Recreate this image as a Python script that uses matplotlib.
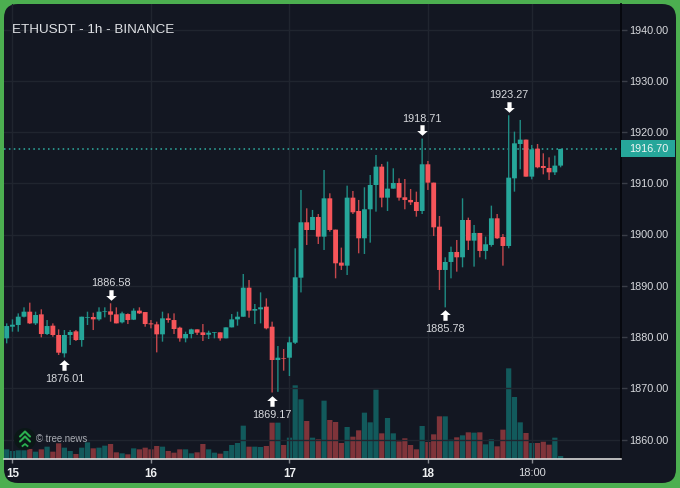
import numpy as np
import matplotlib
matplotlib.use("Agg")
import matplotlib.pyplot as plt
from matplotlib.patches import FancyBboxPatch, Circle
from matplotlib.path import Path
from matplotlib.transforms import offset_copy

plt.rcParams['font.family'] = ['Liberation Sans', 'DejaVu Sans']

opens = [1879.74,1882.01,1882.34,1883.96,1884.94,1882.66,1884.42,1880.58,1882.21,1880.39,
1876.81,1880.39,1881.10,1879.41,1883.77,1883.90,1883.44,1884.87,1885.00,1884.42,
1882.86,1884.48,1883.38,1885.14,1884.87,1882.66,1882.47,1880.52,1883.64,1883.31,
1881.82,1879.74,1880.58,1881.49,1880.91,1880.45,1880.84,1880.91,1879.74,1881.88,
1883.44,1883.96,1889.62,1885.14,1885.40,1885.92,1882.01,1875.51,1875.83,1875.96,
1878.89,1891.58,1902.38,1900.88,1903.42,1899.58,1907.06,1900.95,1894.51,1893.92,
1907.19,1904.59,1899.26,1904.92,1909.66,1913.24,1907.19,1908.95,1910.05,1907.26,
1906.74,1906.35,1904.59,1913.70,1910.12,1901.53,1893.08,1894.64,1896.59,1895.55,
1902.83,1898.80,1900.30,1896.79,1897.96,1903.16,1899.52,1897.76,1910.96,1917.66,
1918.51,1911.29,1916.75,1913.37,1912.98,1912.13,1913.44]
closes = [1882.14,1882.40,1883.96,1884.94,1882.66,1884.29,1880.58,1882.14,1880.39,1876.94,
1880.39,1880.97,1879.41,1883.96,1883.90,1883.44,1884.94,1885.00,1884.35,1882.66,
1884.61,1883.31,1885.14,1884.61,1882.53,1882.47,1880.52,1883.64,1883.31,1881.56,
1879.74,1880.58,1881.49,1880.84,1880.39,1880.84,1880.97,1879.74,1881.88,1883.44,
1883.96,1889.62,1885.14,1885.46,1885.79,1881.69,1875.51,1875.96,1875.77,1878.96,
1891.65,1902.38,1900.88,1903.42,1899.58,1907.06,1900.88,1894.38,1893.92,1907.19,
1904.33,1899.26,1904.92,1909.66,1913.24,1907.19,1908.95,1910.05,1907.19,1906.74,
1906.28,1904.59,1913.70,1910.12,1901.40,1893.08,1894.64,1896.59,1895.55,1902.83,
1898.80,1900.30,1896.79,1898.09,1903.16,1899.26,1897.76,1911.09,1917.79,1918.51,
1911.29,1916.62,1913.11,1912.98,1912.13,1913.44,1916.70]
highs = [1882.66,1883.44,1884.61,1885.79,1886.70,1884.94,1885.40,1883.31,1882.66,1881.49,
1881.36,1881.36,1881.36,1883.96,1884.94,1884.74,1885.79,1885.79,1886.58,1885.79,
1884.94,1884.61,1885.59,1885.79,1884.87,1883.31,1882.99,1884.94,1884.61,1884.61,
1882.01,1881.04,1881.62,1881.49,1882.53,1881.23,1880.97,1880.91,1881.88,1884.48,
1884.94,1892.29,1891.12,1886.44,1888.71,1887.54,1882.99,1878.24,1877.66,1880.06,
1897.31,1908.69,1905.11,1904.79,1904.00,1912.59,1908.04,1900.95,1897.44,1909.53,
1908.49,1906.74,1909.21,1911.61,1915.52,1913.76,1914.22,1912.92,1910.96,1910.83,
1908.88,1908.36,1918.71,1914.35,1910.12,1903.61,1895.55,1897.63,1898.93,1907.06,
1903.29,1901.86,1900.30,1899.58,1905.63,1904.00,1900.10,1923.27,1920.07,1922.35,
1918.51,1917.47,1917.66,1915.84,1915.06,1915.39,1916.70]
lows = [1878.76,1881.04,1881.04,1883.83,1882.53,1882.34,1879.93,1880.39,1880.06,1876.49,
1876.01,1878.44,1879.22,1878.11,1882.34,1881.36,1883.18,1883.83,1882.99,1882.66,
1882.66,1882.53,1883.31,1884.48,1882.01,1881.69,1877.00,1879.09,1882.79,1880.58,
1879.09,1878.96,1879.74,1880.39,1879.22,1879.61,1879.74,1879.28,1879.74,1881.88,
1882.21,1883.96,1883.77,1882.53,1882.66,1881.49,1869.17,1869.30,1873.43,1872.39,
1878.63,1888.70,1897.96,1900.88,1898.15,1896.98,1900.56,1891.45,1893.08,1892.10,
1904.00,1896.33,1896.20,1898.41,1904.46,1905.31,1904.59,1908.95,1906.61,1904.92,
1905.76,1903.48,1904.00,1908.69,1899.71,1889.18,1885.78,1891.45,1892.75,1893.60,
1896.98,1893.73,1895.55,1895.16,1897.63,1899.13,1893.92,1897.31,1908.36,1912.72,
1911.29,1910.77,1912.92,1911.74,1910.64,1911.61,1913.11]
volumes = [29,24,26,26,30,22,29,37,22,47,34,24,15,34,50,32,34,40,45,20,17,14,32,29,34,29,39,37,24,
19,29,29,17,20,45,29,19,16,24,42,48,100,37,37,36,39,109,109,42,64,221,179,114,64,59,175,117,111,
48,96,67,86,139,110,208,77,123,77,53,62,42,29,99,51,74,128,128,58,65,71,80,79,80,44,59,38,88,272,
186,110,78,48,48,52,43,64,9]

y_ticks = [1860,1870,1880,1890,1900,1910,1920,1930,1940]
x_tick_pos = [1,25,49,73,91]
x_tick_labels = ['15','16','17','18','18:00']
title = 'ETHUSDT - 1h - BINANCE'
last_price = 1916.70
high_marks = [18,72,87]
low_marks = [10,46,76]

UP='#26a69a'; DOWN='#f6555a'; UPW='#1f8c84'; DOWNW='#c4474c'
UPV='#125a5c'; DOWNV='#7f343a'
BG='#131722'; GREEN='#4caf50'; GRID='#20252f'; TXT='#d8dade'

W,H=680,488
fig=plt.figure(figsize=(W/100,H/100),dpi=100,facecolor=GREEN)

deco=fig.add_axes([0,0,1,1],zorder=0)
deco.set_xlim(0,W); deco.set_ylim(H,0); deco.axis('off')
deco.add_patch(FancyBboxPatch((4+14,4+14),672-28,479-28,boxstyle='round,pad=14',fc=BG,ec='none'))

L,R,T,B=4,620.5,4,459
rect=[L/W,1-B/H,(R-L)/W,(B-T)/H]
n=len(opens)
x=np.arange(n)
xlim=((L-6.7)/5.77,(R-6.7)/5.77)
ylim=(1860+(439.5-B)/5.125,1860+(439.5-T)/5.125)

ax=fig.add_axes(rect,zorder=2,facecolor='none')
ax.set_xlim(*xlim); ax.set_ylim(*ylim)
vax=fig.add_axes(rect,zorder=1,facecolor='none')
vax.set_xlim(*xlim); vax.set_ylim(0,1365); vax.axis('off')

o,c,h,l=map(np.array,(opens,closes,highs,lows))
up=c>=o
for b in vax.bar(x,volumes,width=0.9,color=[UPV if u else DOWNV for u in up],lw=0):
    b.set_snap(False)

ax.set_axisbelow(True)
ax.grid(True,color=GRID,lw=1)
wk=ax.vlines(x,l,h,colors=[UPW if u else DOWNW for u in up],lw=1.0,zorder=3)
wk.set_snap(False)
bot=np.minimum(o,c); hgt=np.maximum(np.abs(c-o),0.12)
for b in ax.bar(x,hgt,bottom=bot,width=0.84,color=[UP if u else DOWN for u in up],lw=0,zorder=4):
    b.set_snap(False)

ax.axhline(last_price,color='#2fb0a4',lw=1.1,ls=(0,(1,2.2)),zorder=2)

ax.yaxis.tick_right()
ax.set_yticks(y_ticks); ax.set_yticklabels([f'{v:.2f}' for v in y_ticks])
ax.set_xticks(x_tick_pos); ax.set_xticklabels(x_tick_labels)
ax.tick_params(axis='y',colors=TXT,length=4,width=1,labelsize=7.8,pad=2.3,color='#3a3e48')
ax.tick_params(axis='x',colors=TXT,length=3,width=1,labelsize=8,pad=3.2,color='#8a8d94')
for t,lab in zip(ax.get_xticklabels(),x_tick_labels):
    if ':' not in lab:
        t.set_fontweight('bold'); t.set_fontsize(8.4); t.set_color('#eef0f2')
for s in ['top','left']:
    ax.spines[s].set_visible(False)
ax.spines['bottom'].set_color('#e8e8e8'); ax.spines['bottom'].set_linewidth(1.1)
ax.spines['right'].set_color('#05070c'); ax.spines['right'].set_linewidth(1.3)

deco2=fig.add_axes([0,0,1,1],zorder=3,facecolor='none')
deco2.set_xlim(0,W); deco2.set_ylim(H,0); deco2.axis('off')
deco2.add_patch(plt.Rectangle((621,140),54,17,fc=UP,ec='none'))
deco2.text(648.5,149,f'{last_price:.2f}',ha='center',va='center',fontsize=7.8,color='#f2f5f5')
deco2.text(12,30,title,ha='left',va='center',fontsize=9.7,color='#dfe1e5')

# logo
deco2.add_patch(Circle((25,439),11,fc='#0b1717',ec='none'))
for dy in (-6.5,-1.5):
    deco2.plot([20,25,30],[dy+439+4,dy+439-1,dy+439+4],color='#2bb04f',lw=1.5,solid_capstyle='round')
deco2.plot([22.5,25,27.5],[446,444,446],color='#2bb04f',lw=1.3)
deco2.text(36,439,'© tree.news',ha='left',va='center',fontsize=6.9,color='#a9acb3')

# arrows and labels
arrow=Path([(-0.4,0),(-0.4,0.1),(-1,0.1),(0,1),(1,0.1),(0.4,0.1),(0.4,-1),(-0.4,-1),(-0.4,0)],closed=False)
down_arrow=Path(arrow.vertices*np.array([1,-1]))
def off(dy):
    return offset_copy(ax.transData,fig=fig,x=0,y=dy,units='dots')
for i in high_marks:
    ax.plot([i],[h[i]],marker=down_arrow,ms=7.6,color='white',mew=0,transform=off(8.5),zorder=6,clip_on=False)
    ax.text(i,h[i],f'{h[i]:.2f}',transform=off(20),ha='center',va='center',fontsize=7.8,color=TXT,zorder=6)
for i in low_marks:
    ax.plot([i],[l[i]],marker=arrow,ms=7.6,color='white',mew=0,transform=off(-8),zorder=6,clip_on=False)
    ax.text(i,l[i],f'{l[i]:.2f}',transform=off(-22),ha='center',va='center',fontsize=7.8,color=TXT,zorder=6)

fig.savefig('out.png',dpi=100,facecolor=GREEN)
